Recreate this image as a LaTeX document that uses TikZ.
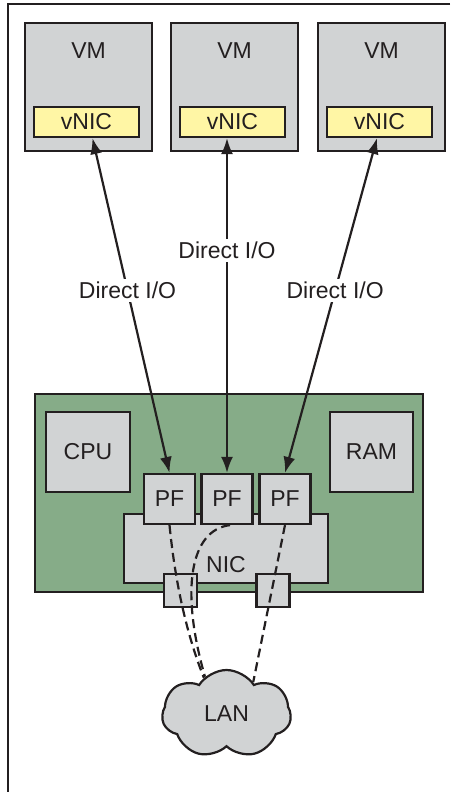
\documentclass[tikz,border=0pt]{standalone}
\usepackage{fontspec}
\setmainfont{Liberation Sans}
\usepackage{tikz}
\usetikzlibrary{arrows.meta,positioning,shapes.symbols}
\definecolor{ink}{RGB}{35,31,32}
\definecolor{boxgray}{RGB}{209,211,212}
\definecolor{vnicyellow}{RGB}{255,246,165}
\definecolor{boardgreen}{RGB}{134,172,136}

\begin{document}
\begin{tikzpicture}[x=1pt, y=-1pt, line width=2.2pt,
	every node/.style={font=\fontsize{23}{27}\selectfont, text=ink},
	graybox/.style={draw=ink, fill=boxgray, inner sep=0pt},
	vmbox/.style={graybox, minimum width=127pt, minimum height=128pt},
	nicbox/.style={graybox, fill=vnicyellow, minimum width=105pt, minimum height=30pt},
	pfbox/.style={graybox, minimum width=51pt, minimum height=50pt},
	portbox/.style={graybox, minimum size=33pt},
	dio/.style={draw=ink, {Latex[length=16pt,width=12pt]}-{Latex[length=16pt,width=12pt]}},
	dio label/.style={fill=white, inner sep=3pt},
	lanwire/.style={draw=ink, dash pattern=on 9pt off 5pt}]
	\useasboundingbox (0,0) rectangle (450,792);
	\draw[ink, line width=2.2pt] (450,4) -- (8,4) -- (8,792);
	\foreach \i/\x in {1/88.5,2/234.5,3/381.5} {
		\node[vmbox] (vm\i) at (\x,87) {};
		\node[below=20pt of vm\i.north, inner sep=0pt] (vmt\i) {VM};
		\node[nicbox] (vnic\i) at (\x-2,122) {vNIC};
	}
	\node[draw=ink, fill=boardgreen, minimum width=388pt, minimum height=198pt] (board) at (229,493) {};
	\node[graybox, minimum width=84pt, minimum height=80pt] (cpu) at (88,452) {CPU};
	\node[graybox, minimum width=83pt, minimum height=80pt] (ram) at (371.5,452) {RAM};
	\node[graybox, minimum width=204pt, minimum height=69pt] (nic) at (226,548.5) {};
	\node[above=10pt of nic.south, inner sep=0pt] (nict) {NIC};
	\foreach \i/\x in {1/169.5,2/227,3/285}
		\node[pfbox] (pf\i) at (\x,499) {PF};
	\node[portbox] (port1) at (180.5,590.5) {};
	\node[portbox] (port2) at (273,590.5) {};
	\node[cloud, draw=ink, fill=boxgray, cloud puffs=7, cloud puff arc=115, aspect=1.45, minimum width=129pt, minimum height=88pt, inner sep=0pt] (lan) at (226.5,714) {LAN};
	\draw[dio] ([xshift=6pt]vnic1.south) -- (pf1.north) node[pos=0.455, dio label] {Direct I/O};
	\draw[dio] (pf2.north |- vnic2.south) -- (pf2.north) node[pos=0.336, dio label] {Direct I/O};
	\draw[dio] ([xshift=-2.5pt]vnic3.south) -- (pf3.north) node[pos=0.455, dio label] {Direct I/O};
	\draw[lanwire] (pf1.south) .. controls (173,560) and (181,620) .. (lan.122);
	\draw[lanwire] ([xshift=3pt]pf2.south) .. controls (190,530) and (180,590) .. (lan.120);
	\draw[lanwire] (pf3.south) -- (lan.50);
\end{tikzpicture}
\end{document}
